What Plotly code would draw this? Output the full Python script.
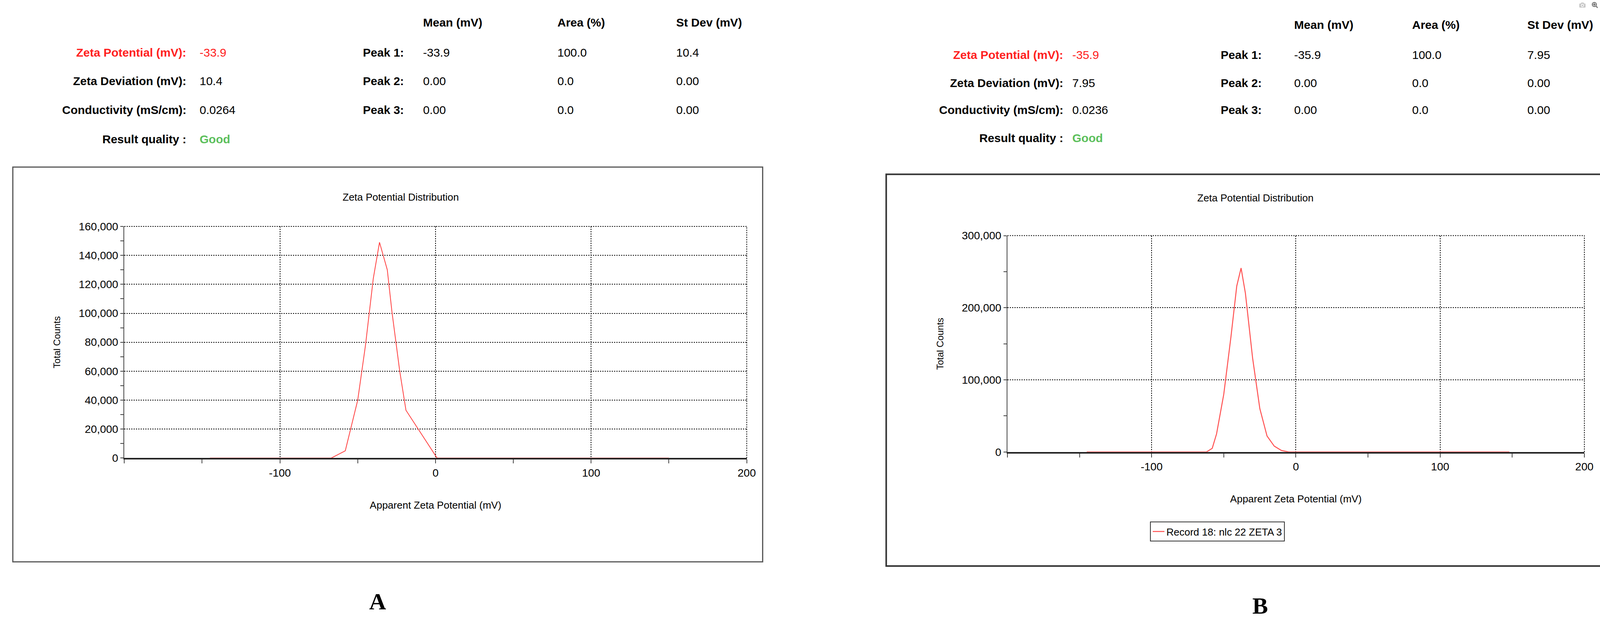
import plotly.graph_objects as go

W, H = 4257, 1619
# Panel A data
xa = [-145, -100, -67, -58, -50, -45, -40, -36, -31, -28, -23, -19, -10, 1, 50, 100, 150]
ya = [0, 0, 0, 5000, 40000, 78000, 124000, 149000, 130000, 101000, 60000, 33000, 18000, 0, 0, 0, 0]
# Panel B data
xb = [-145, -100, -62, -58, -55, -50, -45, -41, -38, -35, -30, -25, -20, -15, -10, -5, 0, 50, 100, 148]
yb = [0, 0, 0, 5000, 25000, 80000, 160000, 230000, 255000, 220000, 130000, 60000, 22000, 8000, 2000, 0, 0, 0, 0, 0]

xticks = [-100, 0, 100, 200]
xticklabels = ["-100", "0", "100", "200"]
yticks_a = [0, 20000, 40000, 60000, 80000, 100000, 120000, 140000, 160000]
yticks_b = [0, 100000, 200000, 300000]

hdr_a = dict(zp="-33.9", zd="10.4", cond="0.0264",
             peaks=[("Peak 1:", "-33.9", "100.0", "10.4"), ("Peak 2:", "0.00", "0.0", "0.00"), ("Peak 3:", "0.00", "0.0", "0.00")])
hdr_b = dict(zp="-35.9", zd="7.95", cond="0.0236",
             peaks=[("Peak 1:", "-35.9", "100.0", "7.95"), ("Peak 2:", "0.00", "0.0", "0.00"), ("Peak 3:", "0.00", "0.0", "0.00")])

FONT = "Liberation Sans, Arial, sans-serif"

def px(x): return x / W
def py(y): return 1 - y / H

fig = go.Figure()
fig.add_trace(go.Scatter(x=xa, y=ya, mode="lines", line=dict(color="#ff4040", width=2), xaxis="x", yaxis="y", showlegend=False))
fig.add_trace(go.Scatter(x=xb, y=yb, mode="lines", line=dict(color="#ff5050", width=2.5), xaxis="x2", yaxis="y2",
                         name="Record 18: nlc 22 ZETA 3", showlegend=True))

def xax(dom, anchor):
    return dict(domain=dom, range=[-200, 200], tickvals=xticks, ticktext=xticklabels, ticks="outside", ticklen=10, tickwidth=2,
                showgrid=True, gridcolor="black", griddash="dot", gridwidth=2, zeroline=False,
                showline=True, linecolor="#222", linewidth=4, anchor=anchor,
                minor=dict(dtick=50, ticks="outside", ticklen=10, tickwidth=2, showgrid=False),
                tickfont=dict(size=28, family=FONT, color="black"),
                title=dict(text="Apparent Zeta Potential (mV)", font=dict(size=26, family=FONT, color="black"), standoff=60))

def yax(dom, anchor, top, tv, dtickm):
    return dict(domain=dom, range=[0, top], tickvals=tv, tickformat=",", ticks="outside", ticklen=8, tickwidth=2,
                showgrid=True, gridcolor="black", griddash="dot", gridwidth=2, zeroline=False,
                showline=True, linecolor="#444", linewidth=2, anchor=anchor,
                minor=dict(dtick=dtickm, ticks="outside", ticklen=8, tickwidth=2, showgrid=False),
                tickfont=dict(size=28, family=FONT, color="black"),
                title=dict(text="Total Counts", font=dict(size=24, family=FONT, color="black"), standoff=40))

fig.update_layout(
    width=W, height=H, margin=dict(l=0, r=0, t=0, b=0), plot_bgcolor="white", paper_bgcolor="white",
    xaxis=xax([px(320), px(1922)], "y"),
    yaxis=yax([py(1181), py(576)], "x", 160000, yticks_a, 10000),
    xaxis2=xax([px(2593), px(4078)], "y2"),
    yaxis2=yax([py(1165), py(600)], "x2", 300000, yticks_b, 50000),
    legend=dict(x=px(2960), y=py(1373), xanchor="left", yanchor="middle", bordercolor="#333", borderwidth=2,
                font=dict(size=26, family=FONT, color="black"), bgcolor="white"),
)

dot = dict(color="black", width=2, dash="dot")
shapes = [
    dict(type="rect", xref="paper", yref="paper", x0=px(33), x1=px(1963), y0=py(1452), y1=py(421), line=dict(color="#555", width=3)),
    dict(type="rect", xref="paper", yref="paper", x0=px(2281), x1=px(4187), y0=py(1463), y1=py(440), line=dict(color="#333", width=4)),
    # edge grid lines at top and right of each plot
    dict(type="line", xref="x domain", yref="y domain", x0=0, x1=1, y0=1, y1=1, line=dot),
    dict(type="line", xref="x domain", yref="y domain", x0=1, x1=1, y0=0, y1=1, line=dot),
    dict(type="line", xref="x2 domain", yref="y2 domain", x0=0, x1=1, y0=1, y1=1, line=dot),
    dict(type="line", xref="x2 domain", yref="y2 domain", x0=1, x1=1, y0=0, y1=1, line=dot),
]
fig.update_layout(shapes=shapes)

ann = []
def t(x, y, s, anchor="left", color="black", bold=False, size=30, fam=FONT):
    ann.append(dict(x=px(x), y=py(y), xref="paper", yref="paper", text=(f"<b>{s}</b>" if bold else s), showarrow=False,
                    xanchor=anchor, yanchor="middle", font=dict(size=size, family=fam, color=color)))

def header(h, lab_r, val_l, peak_r, cols, rows, hy):
    t(cols[0], hy, "Mean (mV)", bold=True)
    t(cols[1], hy, "Area (%)", bold=True)
    t(cols[2], hy, "St Dev (mV)", bold=True)
    t(lab_r, rows[0], "Zeta Potential (mV):", "right", "#ff2020", True)
    t(val_l, rows[0], h["zp"], color="#ff2020")
    t(lab_r, rows[1], "Zeta Deviation (mV):", "right", bold=True)
    t(val_l, rows[1], h["zd"])
    t(lab_r, rows[2], "Conductivity (mS/cm):", "right", bold=True)
    t(val_l, rows[2], h["cond"])
    t(lab_r, rows[3], "Result quality :", "right", bold=True)
    t(val_l, rows[3], "<b>Good</b>", color="#5cbf5c")
    for i, (p, m, a, s) in enumerate(h["peaks"]):
        t(peak_r, rows[i], p, "right", bold=True)
        t(cols[0], rows[i], m)
        t(cols[1], rows[i], a)
        t(cols[2], rows[i], s)

header(hdr_a, 482, 512, 1042, [1087, 1433, 1738], [122, 196, 272, 348], 43)
header(hdr_b, 2739, 2758, 3250, [3329, 3633, 3929], [128, 201, 272, 345], 49)

t(1032, 500, "Zeta Potential Distribution", "center", size=26)
t(3231, 502, "Zeta Potential Distribution", "center", size=26)
t(972, 1556, "<b>A</b>", "center", size=60, fam="Liberation Serif, Times New Roman, serif")
t(3244, 1567, "<b>B</b>", "center", size=60, fam="Liberation Serif, Times New Roman, serif")
fig.update_layout(annotations=ann)

fig.write_html("out.html", post_script="document.body.style.margin='0';document.body.style.overflow='hidden';")
